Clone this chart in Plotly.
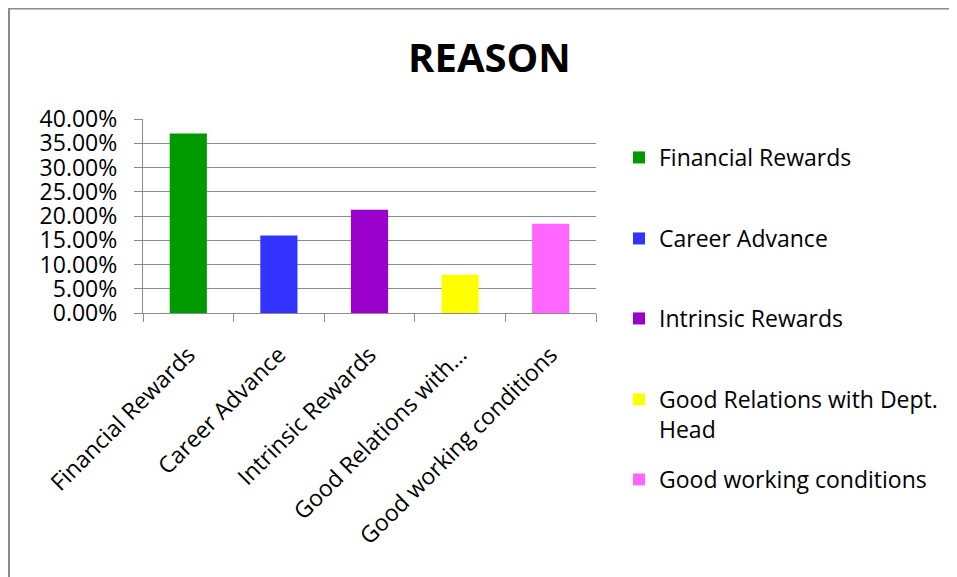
import plotly.graph_objects as go

categories = ["Financial Rewards", "Career Advance", "Intrinsic Rewards",
              "Good Relations with Dept. Head", "Good working conditions"]
tick_labels = ["Financial Rewards", "Career Advance", "Intrinsic Rewards",
               "Good Relations with…", "Good working conditions"]
legend_labels = ["Financial Rewards", "Career Advance", "Intrinsic Rewards",
                 "Good Relations with Dept.<br>Head", "Good working conditions"]
values = [0.370, 0.160, 0.213, 0.079, 0.184]
colors = ["#009900", "#3333FF", "#9900CC", "#FFFF00", "#FF66FF"]

# figure is placed by the page at (8, 8)
W, H = 949, 569
PL, PR, PT, PB = 135, 588, 111, 305   # plot area in figure pixels
FONT = "Open Sans"
GRID = "#8c8c8c"
FS = 23

fig = go.Figure()
legend_names = ["legend", "legend2", "legend3", "legend4", "legend5"]
for i, cat in enumerate(categories):
    fig.add_trace(go.Bar(
        x=[cat], y=[values[i]], name=legend_labels[i],
        marker=dict(color=colors[i], line=dict(width=0)),
        width=0.41, legend=legend_names[i], showlegend=True,
    ))

legend_tops = [128, 209, 289, 370, 450]
legend_layout = {}
for name, top in zip(legend_names, legend_tops):
    legend_layout[name] = dict(
        x=611 / W, xref="container", xanchor="left",
        y=1 - top / H, yref="container", yanchor="top",
        font=dict(family=FONT, size=FS, color="black"),
        bgcolor="rgba(0,0,0,0)", valign="top",
    )

fig.update_layout(
    width=W, height=H,
    margin=dict(l=PL, r=W - PR, t=PT, b=H - PB),
    paper_bgcolor="white", plot_bgcolor="white",
    barmode="overlay",
    font=dict(family=FONT, size=FS, color="black"),
    title=dict(text="<b>REASON</b>", x=481.5 / W, xref="container", xanchor="center",
               y=1 - 50 / H, yref="container", yanchor="middle",
               font=dict(family=FONT, size=40, color="black")),
    xaxis=dict(
        type="category", categoryorder="array", categoryarray=categories,
        tickvals=categories, ticktext=tick_labels, tickangle=-45,
        tickson="boundaries", ticks="outside", ticklen=8, tickwidth=1.3, tickcolor=GRID,
        showline=True, linecolor=GRID, linewidth=1.3, showgrid=False,
        tickfont=dict(family=FONT, size=FS, color="black"),
        ticklabelstandoff=18,
        range=[-0.5, 4.5],
    ),
    yaxis=dict(
        range=[0, 0.4], dtick=0.05, tickformat=".2%",
        ticks="outside", ticklen=8, tickwidth=1.3, tickcolor=GRID,
        showline=True, linecolor=GRID, linewidth=1.3,
        showgrid=True, gridcolor=GRID, gridwidth=1.3, zeroline=False,
        tickfont=dict(family=FONT, size=FS, color="black"),
        ticklabelstandoff=12,
    ),
    **legend_layout,
)

# chart-area frame: left and top edges only
pw, ph = PR - PL, PB - PT
def px_x(v):
    return (v - PL) / pw
def px_y(v):
    return (PB - v) / ph
fig.add_shape(type="line", xref="paper", yref="paper",
              x0=px_x(1), x1=px_x(1), y0=px_y(0), y1=px_y(H + 30),
              line=dict(color="#8a8a8a", width=2))
fig.add_shape(type="line", xref="paper", yref="paper",
              x0=px_x(0), x1=px_x(W + 30), y0=px_y(0.5), y1=px_y(0.5),
              line=dict(color="#8a8a8a", width=2))

fig.write_html("out.html", config={"displayModeBar": False})
